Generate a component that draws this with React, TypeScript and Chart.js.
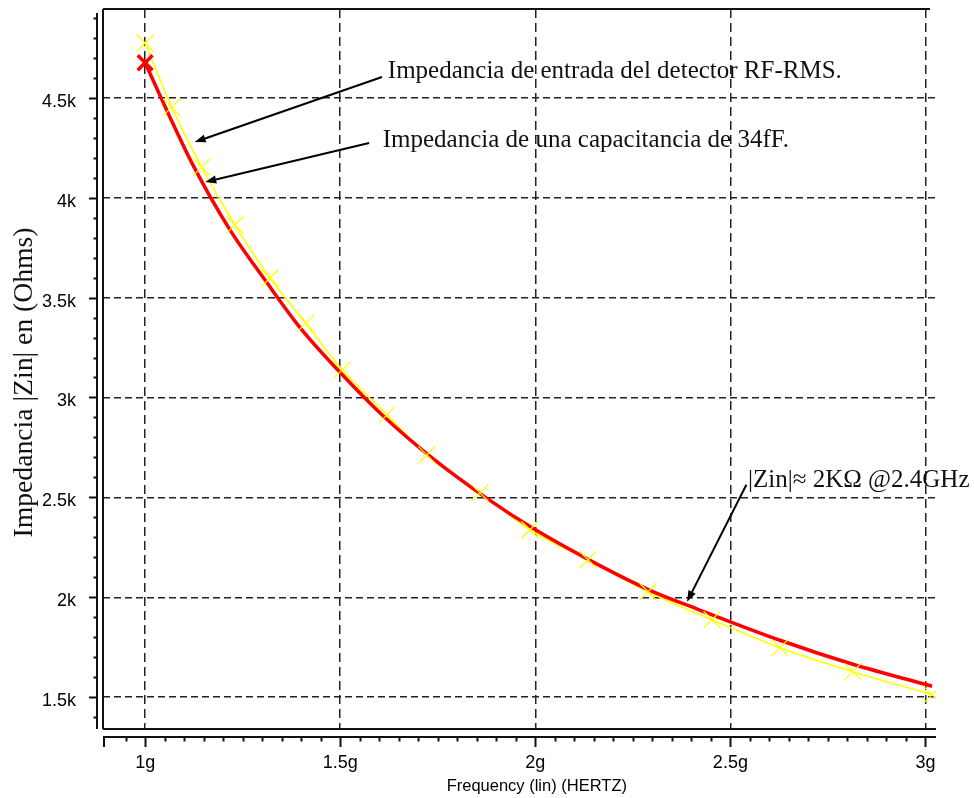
import React, { useEffect, useRef } from 'react';
import { Chart, registerables } from 'chart.js';

Chart.register(...registerables);

// Frequency in GHz ("g"), impedance in kOhm ("k")
const freqDetector = [1.0, 1.068, 1.145, 1.23, 1.32, 1.412, 1.505, 1.62, 1.722, 1.858, 1.986, 2.135, 2.289, 2.453, 2.627, 2.814, 3.017];
const zinDetector = [4.774, 4.453, 4.153, 3.863, 3.598, 3.372, 3.138, 2.913, 2.713, 2.523, 2.338, 2.188, 2.028, 1.888, 1.748, 1.628, 1.513];
const freqCapacitor = [1.0, 1.063, 1.122, 1.217, 1.312, 1.397, 1.5, 1.609, 1.737, 1.876, 1.994, 2.14, 2.294, 2.417, 2.627, 2.814, 3.017];
const zinCapacitor = [4.675, 4.405, 4.165, 3.84, 3.575, 3.35, 3.125, 2.91, 2.695, 2.495, 2.345, 2.185, 2.035, 1.94, 1.785, 1.665, 1.555];

const xTickValues = [1, 1.5, 2, 2.5, 3];
const yTickValues = [1.5, 2, 2.5, 3, 3.5, 4, 4.5];
const xRange = [0.892, 3.027];
const yRange = [1.341, 4.944];

const xTitle = 'Frequency (lin) (HERTZ)';
const yTitle = 'Impedancia |Zin| en (Ohms)';

const noteTexts = [
  'Impedancia de entrada del detector RF-RMS.',
  'Impedancia de una capacitancia de 34fF.',
  '|Zin|\u2248 2K\u03A9 @2.4GHz',
];
const noteAnchors = [[1.622, 4.6], [1.609, 4.253], [2.545, 2.553]];
const arrowFrom = [[1.607, 4.604], [1.574, 4.273], [2.541, 2.563]];
const arrowTo = [[1.127, 4.278], [1.154, 4.078], [2.389, 1.978]];

const SANS = "'Liberation Sans', Arial, sans-serif";
const SERIF = "'Liberation Serif', 'Times New Roman', serif";

const decorPlugin = {
  id: 'decor',
  afterDraw(chart: any) {
    const { ctx, chartArea: a, scales } = chart;
    const xs = scales.x;
    const ys = scales.y;
    ctx.save();
    ctx.setLineDash([]);
    ctx.strokeStyle = '#111';
    ctx.lineWidth = 2;
    // frame
    ctx.beginPath();
    ctx.moveTo(a.left, a.top);
    ctx.lineTo(a.right - 6, a.top);
    ctx.moveTo(a.left, a.top);
    ctx.lineTo(a.left, a.bottom);
    ctx.moveTo(a.left, a.bottom);
    ctx.lineTo(a.right, a.bottom);
    ctx.stroke();

    // detached y axis
    const ax = a.left - 6;
    ctx.beginPath();
    ctx.moveTo(ax, a.top + 4);
    ctx.lineTo(ax, a.bottom);
    for (let i = 14; i <= 49; i++) {
      const py = Math.round(ys.getPixelForValue(i / 10)) + 0.5;
      const len = i % 5 === 0 ? 8 : 3.5;
      ctx.moveTo(ax, py);
      ctx.lineTo(ax - len, py);
    }
    ctx.stroke();

    // detached x axis
    const ay = a.bottom + 8;
    ctx.beginPath();
    ctx.moveTo(a.left, ay);
    ctx.lineTo(a.right, ay);
    ctx.moveTo(a.left + 1, ay);
    ctx.lineTo(a.left + 1, ay + 10);
    for (let i = 19; i <= 60; i++) {
      const px = Math.round(xs.getPixelForValue(i / 20)) + 0.5;
      const len = i % 10 === 0 ? 10 : 4.5;
      ctx.moveTo(px, ay);
      ctx.lineTo(px, ay + len);
    }
    ctx.stroke();

    // arrows
    ctx.strokeStyle = '#000';
    ctx.fillStyle = '#000';
    ctx.lineWidth = 2;
    for (let k = 0; k < arrowFrom.length; k++) {
      const x0 = xs.getPixelForValue(arrowFrom[k][0]);
      const y0 = ys.getPixelForValue(arrowFrom[k][1]);
      const x1 = xs.getPixelForValue(arrowTo[k][0]);
      const y1 = ys.getPixelForValue(arrowTo[k][1]);
      const ang = Math.atan2(y1 - y0, x1 - x0);
      const hl = 11;
      const hw = 4;
      const bx = x1 - hl * Math.cos(ang);
      const by = y1 - hl * Math.sin(ang);
      ctx.beginPath();
      ctx.moveTo(x0, y0);
      ctx.lineTo(bx, by);
      ctx.stroke();
      ctx.beginPath();
      ctx.moveTo(x1, y1);
      ctx.lineTo(bx + hw * Math.sin(ang), by - hw * Math.cos(ang));
      ctx.lineTo(bx - hw * Math.sin(ang), by + hw * Math.cos(ang));
      ctx.closePath();
      ctx.fill();
    }

    // annotation texts
    ctx.font = `25px ${SERIF}`;
    ctx.textAlign = 'left';
    ctx.textBaseline = 'alphabetic';
    ctx.fillStyle = '#111';
    for (let k = 0; k < noteTexts.length; k++) {
      ctx.fillText(noteTexts[k], xs.getPixelForValue(noteAnchors[k][0]), ys.getPixelForValue(noteAnchors[k][1]));
    }

    // axis titles
    ctx.font = `16.5px ${SANS}`;
    ctx.textAlign = 'center';
    ctx.fillStyle = '#000';
    ctx.fillText(xTitle, xs.getPixelForValue(2) + 1.5, 791);

    ctx.save();
    ctx.translate(32, (a.top + a.bottom) / 2 + 13.5);
    ctx.rotate(-Math.PI / 2);
    ctx.font = `27.7px ${SERIF}`;
    ctx.fillStyle = '#111';
    ctx.fillText(yTitle, 0, 0);
    ctx.restore();

    ctx.restore();
  },
};

export default function App() {
  const ref = useRef<HTMLCanvasElement | null>(null);
  useEffect(() => {
    if (!ref.current) return;
    const chart = new Chart(ref.current, {
      type: 'line',
      data: {
        datasets: [
          {
            label: 'Impedancia de entrada del detector RF-RMS. (marcas)',
            data: freqDetector.map((f, i) => ({ x: f, y: zinDetector[i] })),
            showLine: false,
            pointStyle: 'crossRot',
            pointRadius: 12,
            pointBorderWidth: 1.2,
            pointBorderColor: '#ffff00',
            borderColor: '#ffff00',
          },
          {
            label: 'Impedancia de una capacitancia de 34fF.',
            data: freqCapacitor.map((f, i) => ({ x: f, y: zinCapacitor[i] })),
            borderColor: '#ff0000',
            borderWidth: 3.5,
            cubicInterpolationMode: 'monotone',
            pointStyle: 'crossRot',
            pointRadius: (c: any) => (c.dataIndex === 0 ? 10.5 : 0),
            pointBorderWidth: 3.5,
            pointBorderColor: '#ff0000',
          },
          {
            label: 'Impedancia de entrada del detector RF-RMS.',
            data: freqDetector.map((f, i) => ({ x: f, y: zinDetector[i] })),
            borderColor: '#ffff00',
            borderWidth: 1.6,
            cubicInterpolationMode: 'monotone',
            pointRadius: 0,
          },
        ],
      },
      options: {
        animation: false,
        responsive: false,
        maintainAspectRatio: false,
        layout: { autoPadding: false, padding: { top: 9, right: 38, left: 0, bottom: 0 } },
        plugins: { legend: { display: false }, tooltip: { enabled: false } },
        scales: {
          x: {
            type: 'linear',
            min: xRange[0],
            max: xRange[1],
            afterBuildTicks: (axis: any) => {
              axis.ticks = xTickValues.map((v) => ({ value: v }));
            },
            afterFit: (axis: any) => {
              axis.height = 69;
              axis.paddingLeft = 0;
              axis.paddingRight = 0;
            },
            grid: { color: '#222', lineWidth: 1.5, drawTicks: false },
            border: { display: false, dash: [9, 5] },
            ticks: {
              padding: 23,
              color: '#000',
              font: { family: SANS, size: 18 },
              maxRotation: 0,
              autoSkip: false,
              callback: (v: any) => `${v}g`,
            },
          },
          y: {
            type: 'linear',
            min: yRange[0],
            max: yRange[1],
            afterBuildTicks: (axis: any) => {
              axis.ticks = yTickValues.map((v) => ({ value: v }));
            },
            afterFit: (axis: any) => {
              axis.width = 103;
              axis.paddingTop = 0;
              axis.paddingBottom = 0;
            },
            grid: { color: '#222', lineWidth: 1.5, drawTicks: false },
            border: { display: false, dash: [7, 4] },
            ticks: {
              padding: 27,
              labelOffset: 4,
              color: '#000',
              font: { family: SANS, size: 18 },
              autoSkip: false,
              callback: (v: any) => `${v}k`,
            },
          },
        },
      },
      plugins: [decorPlugin],
    });
    return () => chart.destroy();
  }, []);
  return (
    <div style={{ position: 'fixed', left: 0, top: 0, width: 974, height: 798, background: '#fff' }}>
      <canvas ref={ref} width={974} height={798} />
    </div>
  );
}
